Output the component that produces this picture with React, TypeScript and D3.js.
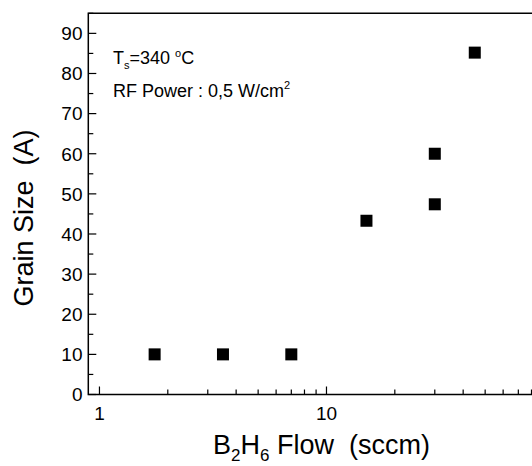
import React from "react";
import * as d3 from "d3";

const flow = [1.75, 3.5, 7, 15, 30, 30, 45];
const grainSize = [10, 10, 10, 43.3, 47.4, 60, 85.2];
const yTicks = [0, 10, 20, 30, 40, 50, 60, 70, 80, 90];
const yMinorTicks = [5, 15, 25, 35, 45, 55, 65, 75, 85, 95];
const xTicks = [1, 10];
const xMinorTicks = [2, 3, 4, 5, 6, 7, 8, 9, 20, 30, 40, 50, 60, 70, 80, 90];

const W = 532;
const H = 466;
const left = 88.3;
const top = 13.3;
const bottom = 394.5;
const right = 553.5;
const font = "'Liberation Sans', Arial, sans-serif";

export default function App() {
  const x = d3.scaleLog().domain([0.893, 100]).range([left, right]);
  const y = d3.scaleLinear().domain([0, 95]).range([bottom, top]);
  const ms = 12;
  return (
    <svg width={W} height={H} style={{ position: "absolute", left: 0, top: 0, background: "#fff" }} fontFamily={font}>
      <rect x={0} y={0} width={W} height={H} fill="#fff" />
      {/* frame */}
      <path d={`M${right},${top}H${left}V${bottom}H${right}`} fill="none" stroke="#000" strokeWidth={1.5} />
      {/* y ticks */}
      {yTicks.map((t) => (
        <g key={"y" + t}>
          <line x1={left} x2={left + 8} y1={y(t)} y2={y(t)} stroke="#000" strokeWidth={1.2} />
          <text x={82.5} y={y(t)} dy="0.36em" textAnchor="end" fontSize={19}>{t}</text>
        </g>
      ))}
      {yMinorTicks.map((t) => (
        <line key={"ym" + t} x1={left} x2={left + 5} y1={y(t)} y2={y(t)} stroke="#000" strokeWidth={1.2} />
      ))}
      {/* x ticks */}
      {xTicks.map((t) => (
        <g key={"x" + t}>
          <line x1={x(t)} x2={x(t)} y1={bottom} y2={bottom - 8} stroke="#000" strokeWidth={1.2} />
          <text x={x(t)} y={420} textAnchor="middle" fontSize={19}>{t}</text>
        </g>
      ))}
      {xMinorTicks.map((t) => (
        <line key={"xm" + t} x1={x(t)} x2={x(t)} y1={bottom} y2={bottom - 5} stroke="#000" strokeWidth={1.2} />
      ))}
      {/* markers */}
      {flow.map((f, i) => (
        <rect key={"p" + i} x={x(f) - ms / 2} y={y(grainSize[i]) - ms / 2} width={ms} height={ms} fill="#000" />
      ))}
      {/* annotations */}
      <text x={113} y={64} fontSize={18}>
        T<tspan fontSize={11} dy={5}>s</tspan><tspan dy={-5}>=340 </tspan><tspan fontSize={11} dy={-7}>o</tspan><tspan dy={7}>C</tspan>
      </text>
      <text x={113} y={97} fontSize={18}>
        RF Power : 0,5 W/cm<tspan fontSize={11} dy={-8}>2</tspan>
      </text>
      {/* axis titles */}
      <text transform={`translate(33,218) rotate(-90)`} textAnchor="middle" fontSize={27}>
        Grain Size{"\u00a0\u00a0"}(A)
      </text>
      <text x={213} y={454} fontSize={27}>
        B<tspan fontSize={17} dy={7}>2</tspan><tspan dy={-7}>H</tspan><tspan fontSize={17} dy={7}>6</tspan><tspan dy={-7}> Flow{"\u00a0\u00a0"}(sccm)</tspan>
      </text>
    </svg>
  );
}
